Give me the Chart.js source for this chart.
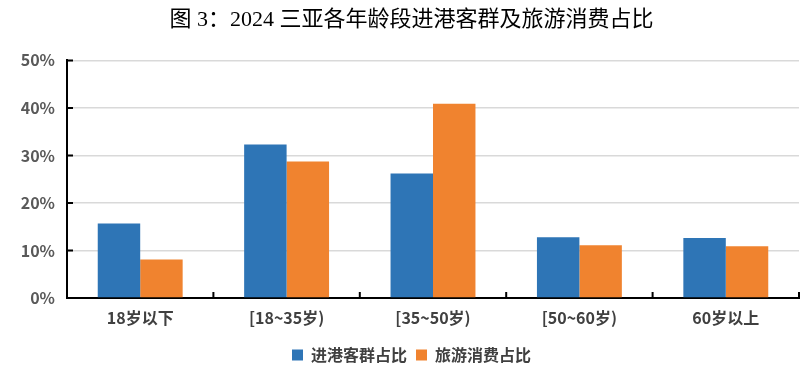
<!DOCTYPE html>
<html>
<head>
<meta charset="utf-8">
<script src="https://cdn.jsdelivr.net/npm/chart.js@4/dist/chart.umd.min.js"></script>
<style>
html,body{margin:0;padding:0;background:#fff;}
#wrap{width:811px;height:385px;}
</style>
</head>
<body>
<div id="wrap"><canvas id="ageChart" width="811" height="385"></canvas></div>
<script>
// 各年龄段占比（%）
const categories = ["18岁以下", "[18~35岁)", "[35~50岁)", "[50~60岁)", "60岁以上"];
const arrivalShare = [15.7, 32.3, 26.2, 12.8, 12.6];
const spendShare = [8.1, 28.7, 40.9, 11.1, 10.9];
const seriesNames = ["进港客群占比", "旅游消费占比"];
const yTicks = [0, 10, 20, 30, 40, 50];

const sansFont = "'Noto Sans CJK SC', 'Noto Sans', sans-serif";

// inner tick marks, like the original (drawn at scale positions)
const innerTicks = {
  id: "innerTicks",
  afterDatasetsDraw(chart){
    const ctx = chart.ctx;
    const x = chart.scales.x;
    const y = chart.scales.y;
    ctx.save();
    ctx.strokeStyle = "#000";
    ctx.lineWidth = 2;
    ctx.beginPath();
    yTicks.forEach(function(v){
      const py = y.getPixelForValue(v);
      ctx.moveTo(x.left, py);
      ctx.lineTo(x.left + 6, py);
    });
    const half = (x.getPixelForTick(1) - x.getPixelForTick(0)) / 2;
    for(let i = 0; i < categories.length; i++){
      const px = x.getPixelForTick(i) + half;
      ctx.moveTo(px, y.bottom);
      ctx.lineTo(px, y.bottom - 6);
    }
    ctx.stroke();
    ctx.restore();
  }
};

new Chart(document.getElementById("ageChart"), {
  type: "bar",
  data: {
    labels: categories,
    datasets: [
      {label: seriesNames[0], data: arrivalShare, backgroundColor: "#2E75B6"},
      {label: seriesNames[1], data: spendShare, backgroundColor: "#F0832F"}
    ]
  },
  options: {
    responsive: false,
    animation: false,
    devicePixelRatio: 1,
    // negative right padding + empty right axis: keeps plot at 67..799 but centres title/legend like the original
    layout: {padding: {left: 0, right: -12, top: 0, bottom: 12}},
    categoryPercentage: 0.58,
    barPercentage: 1,
    plugins: {
      title: {
        display: true,
        text: "图 3：2024 三亚各年龄段进港客群及旅游消费占比",
        color: "#000",
        font: {family: "'Liberation Serif', 'Noto Sans CJK SC', serif", size: 22, weight: "normal"},
        padding: {top: 7, bottom: 27}
      },
      legend: {
        position: "bottom",
        labels: {
          color: "#404040",
          font: {family: sansFont, size: 16, weight: "bold"},
          boxWidth: 11,
          boxHeight: 11,
          padding: 9
        }
      },
      tooltip: {enabled: false}
    },
    scales: {
      x: {
        grid: {display: false, drawTicks: false},
        border: {display: true, color: "#000", width: 2},
        ticks: {color: "#404040", font: {family: sansFont, size: 16, weight: "bold"}, padding: 10},
        afterFit(scale){ scale.height = 40; }
      },
      y: {
        min: 0,
        max: 50,
        afterBuildTicks(scale){ scale.ticks = yTicks.map(function(v){ return {value: v}; }); },
        grid: {color: "#D9D9D9", lineWidth: 1.5, drawTicks: false},
        border: {display: true, color: "#000", width: 2},
        ticks: {
          color: "#595959",
          font: {family: sansFont, size: 16, weight: "bold"},
          padding: 12,
          callback: function(v){ return v + "%"; }
        },
        afterFit(scale){ scale.width = 67; }
      },
      spacer: {
        type: "linear",
        position: "right",
        display: true,
        grid: {display: false, drawTicks: false},
        border: {display: false},
        ticks: {display: false},
        afterFit(scale){ scale.width = 24; }
      }
    }
  },
  plugins: [innerTicks]
});
</script>
</body>
</html>
